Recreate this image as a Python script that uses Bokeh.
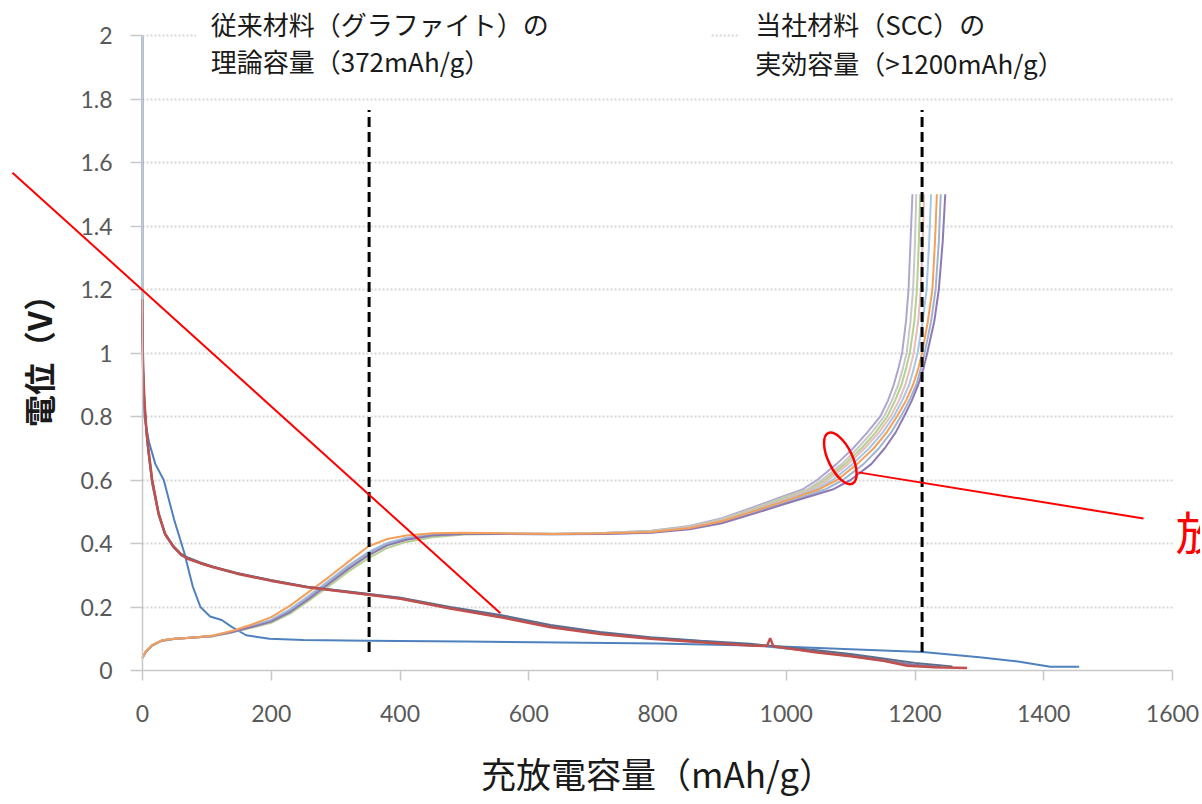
from bokeh.plotting import figure
from bokeh.models import (Range1d, FixedTicker, NumeralTickFormatter, Label, Arrow,
                          BoxAnnotation)
from bokeh.embed import file_html
from bokeh.resources import INLINE

# ---------------- data ----------------
# first-cycle discharge (blue)
first_x = [0, 0, 1, 3, 10, 20, 33, 49, 65, 78, 90, 105, 123, 138, 161, 197, 250, 350,
           500, 650, 800, 944, 1050, 1150, 1212, 1300, 1360, 1410, 1455]
first_y = [2.0, 1.2, 0.95, 0.8, 0.72, 0.65, 0.6, 0.476, 0.37, 0.265, 0.2, 0.17, 0.159,
           0.138, 0.111, 0.1, 0.096, 0.094, 0.091, 0.088, 0.085, 0.079, 0.071, 0.063,
           0.058, 0.042, 0.028, 0.012, 0.012]

# later-cycle discharge curves
disc_red_x = [0, 0, 1, 3, 6, 9, 15, 25, 35, 48, 60, 70, 90, 110, 147, 199, 256, 323, 401,
              478, 556, 634, 711, 789, 867, 944, 970, 975, 980, 1048, 1100, 1151, 1188,
              1230, 1281]
disc_red_y = [1.17, 1.05, 0.95, 0.85, 0.76, 0.70, 0.60, 0.494, 0.43, 0.39, 0.365, 0.352,
              0.338, 0.325, 0.305, 0.283, 0.262, 0.246, 0.226, 0.195, 0.168, 0.136, 0.115,
              0.100, 0.089, 0.079, 0.077, 0.102, 0.076, 0.057, 0.045, 0.031, 0.015, 0.010,
              0.008]
disc_slate_x = [0, 1, 3, 6, 9, 15, 25, 35, 48, 60, 70, 90, 110, 147, 199, 256, 323, 401,
                478, 556, 634, 711, 789, 867, 944, 1048, 1100, 1151, 1200, 1258]
disc_slate_y = [1.12, 0.94, 0.84, 0.76, 0.70, 0.60, 0.497, 0.432, 0.392, 0.367, 0.356,
                0.340, 0.327, 0.307, 0.285, 0.264, 0.248, 0.229, 0.200, 0.175, 0.143,
                0.121, 0.105, 0.094, 0.084, 0.064, 0.052, 0.038, 0.024, 0.013]
disc_purple_x = [0, 1, 3, 6, 9, 15, 25, 35, 48, 60, 70, 90, 110, 147, 199, 256, 323, 401,
                 478, 556, 634, 711, 789, 867, 944, 1048, 1100, 1151, 1200, 1240]
disc_purple_y = [1.10, 0.93, 0.84, 0.75, 0.69, 0.59, 0.492, 0.43, 0.39, 0.365, 0.355,
                 0.338, 0.326, 0.306, 0.284, 0.263, 0.247, 0.228, 0.198, 0.172, 0.140,
                 0.118, 0.103, 0.092, 0.082, 0.061, 0.048, 0.033, 0.018, 0.011]
disc_teal_x = [0, 1, 3, 6, 9, 15, 25, 35, 48, 60, 70, 90, 110, 147, 199, 256, 323, 401,
               478, 556, 634, 711, 789, 867, 944, 1048, 1100, 1151, 1200, 1232]
disc_teal_y = [1.08, 0.92, 0.83, 0.75, 0.69, 0.59, 0.49, 0.428, 0.388, 0.363, 0.353,
               0.337, 0.325, 0.305, 0.283, 0.262, 0.246, 0.227, 0.197, 0.171, 0.139,
               0.117, 0.102, 0.091, 0.081, 0.059, 0.046, 0.031, 0.016, 0.012]

# charge curves: a shared capacity grid for the lower part ...
charge_rise_x = [0, 5, 15, 30, 50, 80, 110, 140, 170, 200, 230, 260, 290, 320, 350, 380,
                 410, 450, 500, 560, 640, 720, 790, 850, 900, 950, 1000]
# ... and a shared voltage grid for the steep upper part
charge_tail_y = [0.57, 0.6, 0.65, 0.7, 0.75, 0.8, 0.85, 0.9, 0.95, 1.0, 1.1, 1.2, 1.35,
                 1.5]

ch1_rise_y = [0.04, 0.058, 0.079, 0.094, 0.1, 0.104, 0.109, 0.123, 0.14, 0.158, 0.19, 0.232,
              0.278, 0.325, 0.368, 0.398, 0.415, 0.427, 0.432, 0.432, 0.431, 0.434, 0.44,
              0.455, 0.48, 0.515, 0.552]
ch2_rise_y = [0.04, 0.058, 0.079, 0.094, 0.1, 0.104, 0.109, 0.122, 0.138, 0.155, 0.186,
              0.228, 0.273, 0.32, 0.362, 0.394, 0.412, 0.425, 0.431, 0.432, 0.431, 0.433,
              0.439, 0.453, 0.477, 0.511, 0.548]
ch3_rise_y = [0.04, 0.057, 0.078, 0.093, 0.099, 0.103, 0.108, 0.12, 0.135, 0.15, 0.18, 0.222,
              0.266, 0.312, 0.352, 0.386, 0.405, 0.42, 0.428, 0.43, 0.43, 0.433, 0.438,
              0.452, 0.475, 0.508, 0.545]
ch4_rise_y = [0.04, 0.058, 0.079, 0.094, 0.1, 0.104, 0.109, 0.122, 0.139, 0.157, 0.19, 0.233,
              0.279, 0.325, 0.366, 0.397, 0.413, 0.426, 0.431, 0.431, 0.43, 0.432, 0.437,
              0.451, 0.473, 0.505, 0.541]
ch5_rise_y = [0.04, 0.059, 0.08, 0.095, 0.1, 0.104, 0.11, 0.123, 0.141, 0.16, 0.194, 0.238,
              0.284, 0.331, 0.372, 0.402, 0.418, 0.428, 0.432, 0.431, 0.43, 0.432, 0.436,
              0.45, 0.471, 0.503, 0.538]
ch6_rise_y = [0.04, 0.06, 0.08, 0.095, 0.1, 0.104, 0.11, 0.125, 0.145, 0.168, 0.205, 0.25,
              0.295, 0.343, 0.39, 0.414, 0.425, 0.432, 0.434, 0.432, 0.43, 0.432, 0.436,
              0.449, 0.47, 0.502, 0.535]
ch7_rise_y = [0.04, 0.059, 0.08, 0.095, 0.1, 0.104, 0.109, 0.122, 0.139, 0.158, 0.19, 0.235,
              0.281, 0.328, 0.37, 0.4, 0.416, 0.427, 0.431, 0.43, 0.429, 0.431, 0.435,
              0.447, 0.467, 0.498, 0.53]
ch8_rise_y = [0.04, 0.058, 0.079, 0.094, 0.1, 0.104, 0.109, 0.121, 0.137, 0.154, 0.185,
              0.228, 0.274, 0.32, 0.362, 0.394, 0.412, 0.425, 0.43, 0.43, 0.429, 0.43, 0.434,
              0.445, 0.464, 0.494, 0.526]

ch1_tail_x = [1025, 1048, 1078, 1104, 1126, 1146, 1158, 1167, 1174, 1180, 1186, 1190, 1193,
              1196]
ch2_tail_x = [1032, 1055, 1086, 1111, 1133, 1152, 1164, 1174, 1181, 1187, 1193, 1197, 1200,
              1202]
ch3_tail_x = [1036, 1060, 1091, 1117, 1139, 1157, 1169, 1179, 1186, 1192, 1199, 1203, 1206,
              1208]
ch4_tail_x = [1040, 1065, 1096, 1122, 1144, 1162, 1175, 1185, 1192, 1198, 1205, 1209, 1212,
              1214]
ch5_tail_x = [1045, 1072, 1103, 1129, 1150, 1167, 1180, 1191, 1198, 1204, 1212, 1218, 1222,
              1225]
ch6_tail_x = [1050, 1079, 1110, 1136, 1156, 1172, 1186, 1197, 1205, 1211, 1220, 1227, 1231,
              1234]
ch7_tail_x = [1060, 1088, 1120, 1144, 1163, 1178, 1191, 1202, 1209, 1215, 1225, 1232, 1237,
              1240]
ch8_tail_x = [1072, 1100, 1132, 1153, 1170, 1183, 1195, 1205, 1213, 1219, 1230, 1237, 1243,
              1247]

charge_colors = ["#AFA6CF", "#C8C8C8", "#B5D192", "#E8BDBB", "#A4C8E6", "#F5A05A",
                 "#9DB5D5", "#8E79B3"]

# reference capacities marked with dashed lines
ref_capacity = [352, 1211]
ref_v_bottom = [0.058, 0.058]
ref_v_top = [1.765, 1.765]

x_ticks = [0, 200, 400, 600, 800, 1000, 1200, 1400, 1600]
y_ticks = [0, 0.2, 0.4, 0.6, 0.8, 1.0, 1.2, 1.4, 1.6, 1.8, 2.0]

CJK = "Noto Sans CJK JP"

# ---------------- figure ----------------
# The frame fills the canvas so that the hand-drawn annotations (which reach the
# margins) are not clipped; the axes are pinned at x=0 / y=0.
W, H = 1200, 800
X_LEFT_PX, X_RIGHT_PX = 142, 1172     # where 0 and 1600 sit
Y_ZERO_PX, Y_TWO_PX = 670, 35         # where 0 V and 2 V sit
sx = (X_RIGHT_PX - X_LEFT_PX) / 1600.0
sy = (Y_ZERO_PX - Y_TWO_PX) / 2.0
x_range = Range1d(-X_LEFT_PX / sx, (W - X_LEFT_PX) / sx)
y_range = Range1d((Y_ZERO_PX - H) / sy, Y_ZERO_PX / sy)

p = figure(width=W, height=H, x_range=x_range, y_range=y_range,
           output_backend="svg", toolbar_location=None,
           min_border_left=0, min_border_right=0, min_border_top=0,
           min_border_bottom=0)
p.outline_line_color = None
p.background_fill_color = "white"

p.xgrid.visible = False
p.ygrid.ticker = FixedTicker(ticks=y_ticks[1:-1])
p.ygrid.grid_line_color = "#D6D6D6"
p.ygrid.grid_line_dash = "2 2"
p.ygrid.grid_line_width = 2
try:
    p.ygrid.cross_bounds = (0, 1600)
except Exception:
    p.add_layout(BoxAnnotation(right=0, fill_color="white", fill_alpha=1,
                               line_color=None, level="underlay"))
    p.add_layout(BoxAnnotation(left=1600, fill_color="white", fill_alpha=1,
                               line_color=None, level="underlay"))

for ax in (p.xaxis[0], p.yaxis[0]):
    ax.fixed_location = 0
    ax.axis_line_color = "#C8C8C8"
    ax.axis_line_width = 1.5
    ax.major_tick_line_color = "#C8C8C8"
    ax.major_tick_line_width = 1.5
    ax.major_tick_in = 0
    ax.minor_tick_line_color = None
    ax.major_label_text_font = "Lato"
    ax.major_label_text_font_size = "23px"
    ax.major_label_text_color = "#595959"

p.xaxis.bounds = (0, 1600)
p.xaxis.ticker = FixedTicker(ticks=x_ticks)
p.xaxis.major_tick_out = 10
p.xaxis.major_label_standoff = 24
p.xaxis.axis_label = "充放電容量（mAh/g）"
p.xaxis.axis_label_text_font = CJK
p.xaxis.axis_label_text_font_size = "35px"
p.xaxis.axis_label_text_font_style = "normal"
p.xaxis.axis_label_text_color = "#1A1A1A"
p.xaxis.axis_label_standoff = 22

p.yaxis.bounds = (0, 2)
p.yaxis.ticker = FixedTicker(ticks=y_ticks)
p.yaxis.formatter = NumeralTickFormatter(format="0.[0]")
p.yaxis.major_tick_out = 12
p.yaxis.major_label_standoff = 18
p.yaxis.axis_label = "電位（V）"
p.yaxis.axis_label_text_font = CJK
p.yaxis.axis_label_text_font_size = "32px"
p.yaxis.axis_label_text_font_style = "bold"
p.yaxis.axis_label_text_color = "#1A1A1A"
p.yaxis.axis_label_standoff = 16

# visible bits of the top gridline (rest is hidden behind the text boxes)
for xs, xe in ((0, 83), (884, 928)):
    p.add_layout(Arrow(end=None, x_start=xs, y_start=2, x_end=xe, y_end=2,
                       line_color="#D6D6D6", line_dash="2 2", line_width=2))

# ---------------- curves ----------------
p.line(first_x, first_y, line_color="#4F81BD", line_width=2)

charge_rise = [ch1_rise_y, ch2_rise_y, ch3_rise_y, ch4_rise_y, ch5_rise_y, ch6_rise_y,
               ch7_rise_y, ch8_rise_y]
charge_tail = [ch1_tail_x, ch2_tail_x, ch3_tail_x, ch4_tail_x, ch5_tail_x, ch6_tail_x,
               ch7_tail_x, ch8_tail_x]
for i in [0, 1, 2, 3, 4, 6, 7, 5]:
    xs = charge_rise_x + charge_tail[i]
    ys = charge_rise[i] + charge_tail_y
    p.line(xs, ys, line_color=charge_colors[i], line_width=2, line_join="round")

p.line(disc_teal_x, disc_teal_y, line_color="#6FA8BF", line_width=2)
p.line(disc_purple_x, disc_purple_y, line_color="#8B7BAE", line_width=2)
p.line(disc_slate_x, disc_slate_y, line_color="#5B6F8E", line_width=2)
p.line(disc_red_x, disc_red_y, line_color="#C0504D", line_width=2.5)

# dashed reference lines
p.segment(x0=ref_capacity, y0=ref_v_bottom, x1=ref_capacity, y1=ref_v_top,
          line_color="black", line_width=3, line_dash="10 5")

# ---------------- text boxes ----------------
def add_text(x, y, txt):
    p.add_layout(Label(x=x, y=y, text=txt, text_font=CJK, text_font_size="26px",
                       text_color="#1A1A1A", text_baseline="middle"))

add_text(106, 2.038, "従来材料（グラファイト）の")
add_text(106, 1.922, "理論容量（372mAh/g）")
add_text(952, 2.038, "当社材料（SCC）の")
add_text(952, 1.915, "実効容量（>1200mAh/g）")

# ---------------- red hand-drawn annotations ----------------
p.add_layout(Arrow(end=None, x_start=-202, y_start=1.568, x_end=556, y_end=0.18,
                   line_color="#FF0000", line_width=2))
p.ellipse(x=[1084], y=[0.668], width=24, height=56, angle=0.45,
          width_units="screen", height_units="screen",
          fill_color=None, line_color="#FF0000", line_width=2.5)
p.add_layout(Arrow(end=None, x_start=1112, y_start=0.624, x_end=1555, y_end=0.479,
                   line_color="#FF0000", line_width=2))
p.add_layout(Label(x=1605, y=0.444, text="放", text_font=CJK, text_font_size="46px",
                   text_color="#FF0000", text_baseline="middle"))

open("out.html", "w").write(file_html(p, INLINE))
